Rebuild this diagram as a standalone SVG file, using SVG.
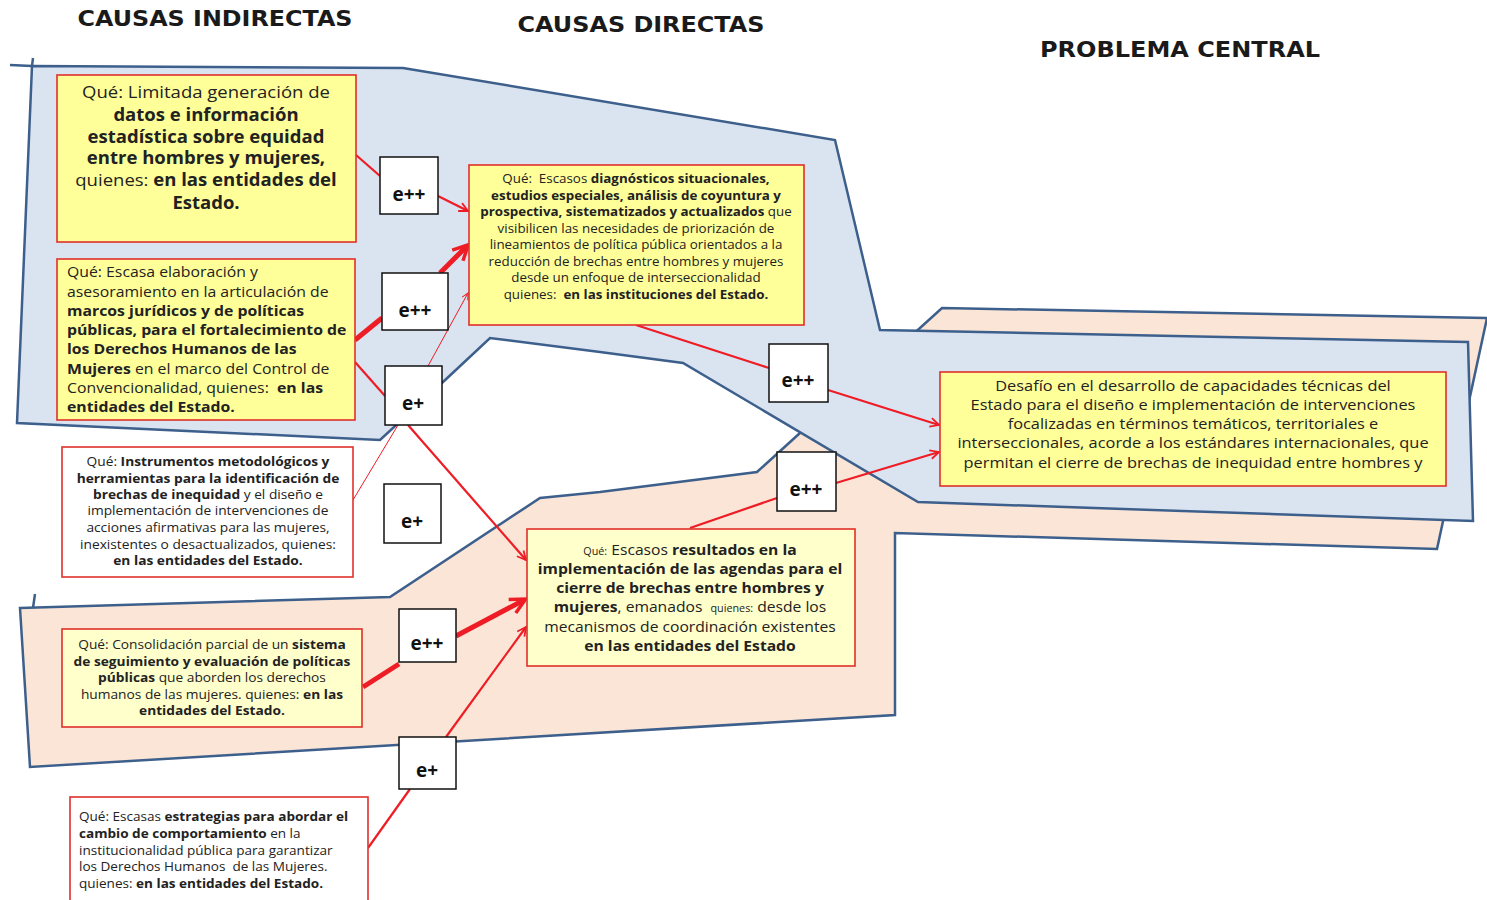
<svg xmlns="http://www.w3.org/2000/svg" width="1487" height="900" viewBox="0 0 1487 900">
<style>
text{font-family:"Open Sans","Noto Sans","Liberation Sans",sans-serif;fill:#222;white-space:pre}
.b{font-weight:bold}
.t{font-family:"DejaVu Sans","Open Sans",sans-serif;font-size:22px;font-weight:bold;text-anchor:middle;fill:#1a1a1a}
.zone{stroke:#3d5f8c;stroke-width:2.5;stroke-linejoin:miter}
.box{stroke:#e0302a;stroke-width:1.6}
.y1{fill:#ffff99}
.y2{fill:#ffffcc}
.w{fill:#ffffff}
.e{fill:#fff;stroke:#111;stroke-width:1.5}
.el{font-size:19px;font-weight:bold;text-anchor:middle;fill:#111}
.c{stroke:#ee1c25;fill:none;stroke-linecap:butt}
.n{stroke-width:2.2}
.k{stroke-width:5}
.h{stroke-width:1}
.m{text-anchor:middle}
</style>
<defs>
<marker id="ar" viewBox="0 0 10 10" refX="9" refY="5" markerWidth="5" markerHeight="5" orient="auto" markerUnits="strokeWidth">
<path d="M1,1 L9,5 L1,9" fill="none" stroke="#ee1c25" stroke-width="1.6"/>
</marker>
<marker id="ark" viewBox="0 0 10 10" refX="8" refY="5" markerWidth="3.8" markerHeight="3.8" orient="auto" markerUnits="strokeWidth">
<path d="M1,1 L9,5 L1,9" fill="none" stroke="#ee1c25" stroke-width="1.8"/>
</marker>
<marker id="arh" viewBox="0 0 10 10" refX="9" refY="5" markerWidth="8" markerHeight="8" orient="auto" markerUnits="strokeWidth">
<path d="M1,1 L9,5 L1,9" fill="none" stroke="#ee1c25" stroke-width="1.2"/>
</marker>
</defs>
<rect width="1487" height="900" fill="#fff"/>

<g id="zones">
<polygon class="zone" fill="#fbe5d6" points="20,608 390,597 540,498 600,492 757,472 800,433 920,328 942,308 1487,318 1437,549 895,533 895,715 30,767"/>
<line class="zone" x1="35" y1="594" x2="33" y2="608"/>
<polygon class="zone" fill="#dae3f0" points="32,66 403,68 835,140 880,330 1468,342 1473,521 918,502 683,363 600,352 490,338 443,382 380,440 17,423"/>
<line class="zone" x1="10" y1="65" x2="32" y2="66"/>
<line class="zone" x1="33" y1="58" x2="32" y2="66"/>
</g>

<g id="titles">
<text class="t" x="215" y="26" textLength="275" lengthAdjust="spacingAndGlyphs">CAUSAS INDIRECTAS</text>
<text class="t" x="641" y="32" textLength="247" lengthAdjust="spacingAndGlyphs">CAUSAS DIRECTAS</text>
<text class="t" x="1180" y="57" textLength="280" lengthAdjust="spacingAndGlyphs">PROBLEMA CENTRAL</text>
</g>

<g id="connectors">
<line class="c n" x1="356" y1="155" x2="380" y2="176"/>
<line class="c n" x1="438" y1="196" x2="468" y2="211" marker-end="url(#ar)"/>
<line class="c k" x1="355" y1="340" x2="382" y2="318"/>
<line class="c k" x1="440" y1="273" x2="467" y2="246" marker-end="url(#ark)"/>
<line class="c n" x1="355" y1="362" x2="385" y2="396"/>
<line class="c n" x1="408" y1="425" x2="526" y2="560" marker-end="url(#ar)"/>
<line class="c h" x1="428" y1="366" x2="468" y2="293" marker-end="url(#arh)"/>
<line class="c h" x1="353" y1="500" x2="398" y2="425"/>
<line class="c n" x1="636" y1="325" x2="769" y2="368"/>
<line class="c n" x1="828" y1="390" x2="939" y2="425" marker-end="url(#ar)"/>
<line class="c n" x1="690" y1="528" x2="777" y2="498"/>
<line class="c n" x1="836" y1="483" x2="939" y2="452" marker-end="url(#ar)"/>
<line class="c k" x1="363" y1="687" x2="399" y2="664"/>
<line class="c k" x1="456" y1="636" x2="524" y2="600" marker-end="url(#ark)"/>
<line class="c n" x1="368" y1="848" x2="410" y2="789"/>
<line class="c n" x1="446" y1="737" x2="526" y2="627" marker-end="url(#ar)"/>
</g>

<g id="n1">
<rect class="box y1" x="57" y="75" width="299" height="167"/>
<g transform="matrix(1.09,0,0,1,-18.54,0)">
<text class="m" font-size="17" x="206" y="98">Qué: Limitada generación de</text>
<text class="m b" font-size="17" x="206" y="121">datos e información</text>
<text class="m b" font-size="17" x="206" y="143">estadística sobre equidad</text>
<text class="m b" font-size="17" x="206" y="164">entre hombres y mujeres,</text>
<text class="m" font-size="17" x="206" y="186">quienes: <tspan class="b">en las entidades del</tspan></text>
<text class="m b" font-size="17" x="206" y="209">Estado.</text>
</g>
</g>

<g id="n2">
<rect class="box y1" x="57" y="259" width="298" height="161"/>
<g transform="matrix(1.09,0,0,1,-6.03,0)">
<text font-size="14.5" x="67" y="277">Qué: Escasa elaboración y</text>
<text font-size="14.5" x="67" y="297">asesoramiento en la articulación de</text>
<text class="b" font-size="14.5" x="67" y="316">marcos jurídicos y de políticas</text>
<text class="b" font-size="14.5" x="67" y="335">públicas, para el fortalecimiento de</text>
<text class="b" font-size="14.5" x="67" y="354">los Derechos Humanos de las</text>
<text font-size="14.5" x="67" y="374"><tspan class="b">Mujeres</tspan> en el marco del Control de</text>
<text font-size="14.5" x="67" y="393">Convencionalidad, quienes:  <tspan class="b">en las</tspan></text>
<text class="b" font-size="14.5" x="67" y="412">entidades del Estado.</text>
</g>
</g>

<g id="n3">
<rect class="box w" x="62" y="447" width="291" height="130"/>
<g transform="matrix(1.1,0,0,1,-20.8,0)">
<text class="m" font-size="12.5" x="208" y="466.5">Qué: <tspan class="b">Instrumentos metodológicos y</tspan></text>
<text class="m b" font-size="12.5" x="208" y="483.5">herramientas para la identificación de</text>
<text class="m" font-size="12.5" x="208" y="499.5"><tspan class="b">brechas de inequidad</tspan> y el diseño e</text>
<text class="m" font-size="12.5" x="208" y="515.5">implementación de intervenciones de</text>
<text class="m" font-size="12.5" x="208" y="532.5">acciones afirmativas para las mujeres,</text>
<text class="m" font-size="12.5" x="208" y="549.5">inexistentes o desactualizados, quienes:</text>
<text class="m b" font-size="12.5" x="208" y="565.5">en las entidades del Estado.</text>
</g>
</g>

<g id="n4">
<rect class="box y2" x="62" y="629" width="300" height="98"/>
<g transform="matrix(1.1,0,0,1,-21.2,0)">
<text class="m" font-size="12.5" x="212" y="649.5">Qué: Consolidación parcial de un <tspan class="b">sistema</tspan></text>
<text class="m b" font-size="12.5" x="212" y="666.5">de seguimiento y evaluación de políticas</text>
<text class="m" font-size="12.5" x="212" y="682.5"><tspan class="b">públicas</tspan> que aborden los derechos</text>
<text class="m" font-size="12.5" x="212" y="699.5">humanos de las mujeres. quienes: <tspan class="b">en las</tspan></text>
<text class="m b" font-size="12.5" x="212" y="715.5">entidades del Estado.</text>
</g>
</g>

<g id="n5">
<rect class="box w" x="70" y="797" width="298" height="110"/>
<g transform="matrix(1.085,0,0,1,-6.72,0)">
<text font-size="12.5" x="79" y="821.5">Qué: Escasas <tspan class="b">estrategias para abordar el</tspan></text>
<text font-size="12.5" x="79" y="838.5"><tspan class="b">cambio de comportamiento</tspan> en la</text>
<text font-size="12.5" x="79" y="855.5">institucionalidad pública para garantizar</text>
<text font-size="12.5" x="79" y="871.5">los Derechos Humanos  de las Mujeres.</text>
<text font-size="12.5" x="79" y="888.5">quienes: <tspan class="b">en las entidades del Estado.</tspan></text>
</g>
</g>

<g id="n6">
<rect class="box y1" x="469" y="165" width="335" height="160"/>
<g transform="matrix(1.07,0,0,1,-44.52,0)">
<text class="m" font-size="12.5" x="636" y="183.5">Qué:  Escasos <tspan class="b">diagnósticos situacionales,</tspan></text>
<text class="m b" font-size="12.5" x="636" y="200.5">estudios especiales, análisis de coyuntura y</text>
<text class="m" font-size="12.5" x="636" y="216.5"><tspan class="b">prospectiva, sistematizados y actualizados</tspan> que</text>
<text class="m" font-size="12.5" x="636" y="233.5">visibilicen las necesidades de priorización de</text>
<text class="m" font-size="12.5" x="636" y="249.5">lineamientos de política pública orientados a la</text>
<text class="m" font-size="12.5" x="636" y="266.5">reducción de brechas entre hombres y mujeres</text>
<text class="m" font-size="12.5" x="636" y="282.5">desde un enfoque de interseccionalidad</text>
<text class="m" font-size="12.5" x="636" y="299.5">quienes:  <tspan class="b">en las instituciones del Estado.</tspan></text>
</g>
</g>

<g id="n7">
<rect class="box y2" x="527" y="529" width="328" height="137"/>
<g transform="matrix(1.08,0,0,1,-55.2,0)">
<text class="m" font-size="14.5" x="690" y="555"><tspan font-size="10">Qué:</tspan> Escasos <tspan class="b">resultados en la</tspan></text>
<text class="m b" font-size="14.5" x="690" y="574">implementación de las agendas para el</text>
<text class="m b" font-size="14.5" x="690" y="593">cierre de brechas entre hombres y</text>
<text class="m" font-size="14.5" x="690" y="612"><tspan class="b">mujeres</tspan>, emanados  <tspan font-size="10">quienes:</tspan> desde los</text>
<text class="m" font-size="14.5" x="690" y="632">mecanismos de coordinación existentes</text>
<text class="m b" font-size="14.5" x="690" y="651">en las entidades del Estado</text>
</g>
</g>

<g id="n8">
<rect class="box y1" x="940" y="372" width="506" height="114"/>
<g transform="matrix(1.17,0,0,1,-202.81,0)">
<text class="m" font-size="14" x="1193" y="391">Desafío en el desarrollo de capacidades técnicas del</text>
<text class="m" font-size="14" x="1193" y="410">Estado para el diseño e implementación de intervenciones</text>
<text class="m" font-size="14" x="1193" y="429">focalizadas en términos temáticos, territoriales e</text>
<text class="m" font-size="14" x="1193" y="448">interseccionales, acorde a los estándares internacionales, que</text>
<text class="m" font-size="14" x="1193" y="468">permitan el cierre de brechas de inequidad entre hombres y</text>
</g>
</g>

<g id="e1"><rect class="e" x="380" y="157" width="58" height="57"/><text class="el" x="409" y="201">e++</text></g>
<g id="e2"><rect class="e" x="382" y="273" width="66" height="57"/><text class="el" x="415" y="317">e++</text></g>
<g id="e3"><rect class="e" x="385" y="366" width="57" height="59"/><text class="el" x="413" y="410">e+</text></g>
<g id="e4"><rect class="e" x="384" y="484" width="57" height="59"/><text class="el" x="412" y="528">e+</text></g>
<g id="e5"><rect class="e" x="769" y="344" width="59" height="58"/><text class="el" x="798" y="387">e++</text></g>
<g id="e6"><rect class="e" x="777" y="452" width="59" height="59"/><text class="el" x="806" y="496">e++</text></g>
<g id="e7"><rect class="e" x="399" y="609" width="57" height="53"/><text class="el" x="427" y="650">e++</text></g>
<g id="e8"><rect class="e" x="399" y="737" width="57" height="52"/><text class="el" x="427" y="777">e+</text></g>
</svg>
